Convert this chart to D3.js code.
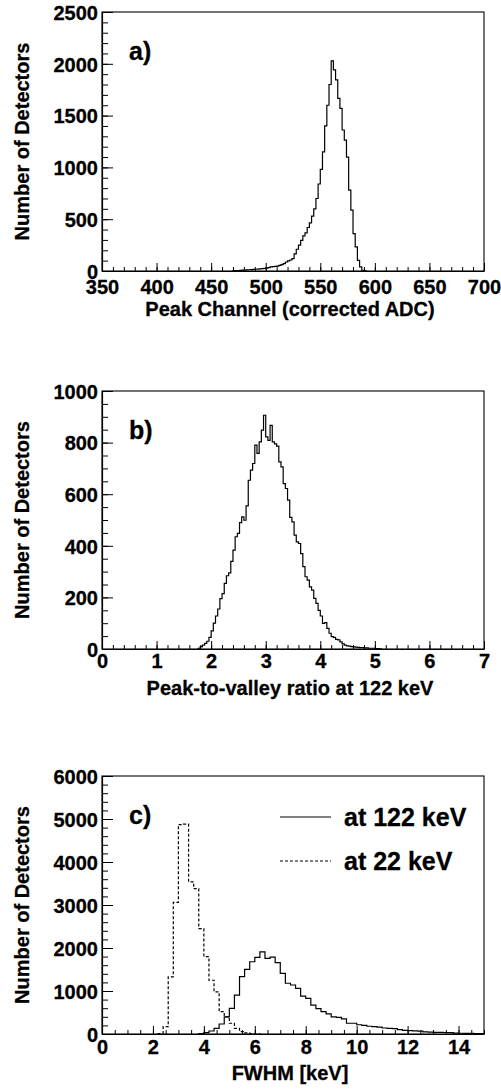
<!DOCTYPE html>
<html>
<head>
<meta charset="utf-8">
<script src="https://cdn.jsdelivr.net/npm/d3@7"></script>
<style>
  html, body { margin: 0; padding: 0; background: #fff; }
  svg text { font-family: "Liberation Sans", Arial, Helvetica, sans-serif; font-weight: bold; fill: #000; stroke: #000; stroke-width: 0.3px; }
</style>
</head>
<body>
<svg id="chart" width="501" height="1091"></svg>
<script>
// ---------- DATA ----------
// Panel a: peak channel histogram (bin width 2, starting at 470)
const aStart = 470, aWidth = 2;
const aCounts = [3,4,5,6,8,9,10,12,14,15,17,18,20,22,25,28,33,39,42,45,48,55,61,72,87,98,106,119,165,210,250,295,340,368,420,465,530,600,700,840,980,1150,1400,1600,1800,2028,1941,1844,1667,1570,1361,1264,1100,780,587,361,232,103,39,7,2];
const aXTicks = [350,400,450,500,550,600,650,700];
const aYTicks = [0,500,1000,1500,2000,2500];

// Panel b: peak-to-valley ratio (bin width 0.04, starting at 1.76)
const bStart = 1.76, bWidth = 0.04;
const bCounts = [3,9,15,22,30,45,70,100,128,155,195,215,254,284,295,340,383,435,448,490,512,499,555,654,693,719,790,758,803,848,906,822,809,867,803,795,786,725,706,641,622,577,510,493,441,415,409,370,319,280,267,241,228,196,177,150,128,99,102,80,61,48,45,37,35,28,20,15,12,11,9,8,7,6,5,5,4,4,3,3,3,2,2,1];
const bXTicks = [0,1,2,3,4,5,6,7];
const bYTicks = [0,200,400,600,800,1000];

// Panel c: FWHM (bin width 0.2)
const cWidth = 0.2;
const c122Start = 3.8;
const c122Counts = [10,31,70,132,232,400,596,906,1332,1502,1680,1780,1910,1760,1790,1660,1410,1180,1140,1060,880,830,670,590,520,470,400,385,350,250,250,215,200,180,170,160,140,132,125,100,85,80,75,65,50,45,40,38,35,30,22,18,15,14,12,10];
const c22Start = 2.2;
const c22Counts = [10,170,1330,3060,4870,4880,3540,3380,2450,1800,1250,980,520,400,250,130,55,25,10,5];
const cXTicks = [0,2,4,6,8,10,12,14];
const cYTicks = [0,1000,2000,3000,4000,5000,6000];
const cLegend = ["at 122 keV", "at 22 keV"];

// ---------- LAYOUT ----------
const svg = d3.select("#chart");
const L = 102, R = 484;

function histPath(x, y, start, width, counts) {
  const p = d3.path();
  p.moveTo(x(start), y(0));
  counts.forEach((c, i) => {
    p.lineTo(x(start + i * width), y(c));
    p.lineTo(x(start + (i + 1) * width), y(c));
  });
  p.lineTo(x(start + counts.length * width), y(0));
  return p.toString();
}

function panel(cfg) {
  const g = svg.append("g");
  const x = d3.scaleLinear().domain(cfg.xDomain).range([L, R]);
  const y = d3.scaleLinear().domain(cfg.yDomain).range([cfg.bottom, cfg.top]);

  const clipId = "clip" + cfg.id;
  svg.append("clipPath").attr("id", clipId).append("rect")
    .attr("x", L).attr("y", cfg.top - 1).attr("width", R - L).attr("height", cfg.bottom - cfg.top + 2);

  // minor ticks
  const yMinor = d3.range(cfg.yDomain[0], cfg.yDomain[1] + 1e-9, cfg.yMinor);
  const xMinor = d3.range(cfg.xDomain[0], cfg.xDomain[1] + 1e-9, cfg.xMinor);
  g.append("g").attr("transform", `translate(${L},0)`)
    .call(d3.axisLeft(y).tickValues(yMinor).tickSize(-6).tickSizeOuter(0).tickFormat(""))
    .call(s => s.select(".domain").remove());
  g.append("g").attr("transform", `translate(0,${cfg.bottom})`)
    .call(d3.axisBottom(x).tickValues(xMinor).tickSize(-4).tickSizeOuter(0).tickFormat(""))
    .call(s => s.select(".domain").remove());

  // major ticks
  const ya = g.append("g").attr("transform", `translate(${L},0)`)
    .call(d3.axisLeft(y).tickValues(cfg.yTicks).tickSize(-11).tickSizeOuter(0).tickPadding(4).tickFormat(d3.format("d")));
  ya.selectAll("text").attr("dy", "0.36em").style("font-size", "20px");
  const xa = g.append("g").attr("transform", `translate(0,${cfg.bottom})`)
    .call(d3.axisBottom(x).tickValues(cfg.xTicks).tickSize(-8).tickSizeOuter(0).tickFormat(d3.format("d")));
  xa.selectAll("text").attr("y", cfg.xLabelOff).attr("dy", 0).style("font-size", "20px");
  g.selectAll(".tick line").attr("stroke", "#000").attr("stroke-width", 1);
  g.selectAll(".domain").attr("stroke", "#000").attr("stroke-width", 1.2);

  // frame
  g.append("rect").attr("x", L).attr("y", cfg.top).attr("width", R - L).attr("height", cfg.bottom - cfg.top)
    .attr("fill", "none").attr("stroke", "#000").attr("stroke-width", 1.1);

  // histograms
  cfg.series.forEach(s => {
    g.append("path")
      .attr("d", histPath(x, y, s.start, s.width, s.counts))
      .attr("fill", "none").attr("stroke", "#000").attr("stroke-width", 1.2)
      .attr("stroke-dasharray", s.dash || null)
      .attr("clip-path", `url(#${clipId})`);
  });

  // axis titles
  g.append("text").attr("x", (L + R) / 2 - 3).attr("y", cfg.bottom + cfg.xTitleOff)
    .attr("text-anchor", "middle").style("font-size", "20px").text(cfg.xTitle);
  g.append("text").attr("transform", `translate(29,${(cfg.top + cfg.bottom) / 2}) rotate(-90)`)
    .attr("text-anchor", "middle").style("font-size", "20px").text("Number of Detectors");

  // panel label
  g.append("text").attr("x", 129).attr("y", cfg.top + 48).style("font-size", "25px").text(cfg.label);
  return {g, x, y};
}

panel({
  id: "a", top: 12, bottom: 271, xDomain: [350, 700], yDomain: [0, 2500],
  xTicks: aXTicks, yTicks: aYTicks, xMinor: 10, yMinor: 100,
  xLabelOff: 23, xTitleOff: 45, xTitle: "Peak Channel (corrected ADC)", label: "a)",
  series: [{start: aStart, width: aWidth, counts: aCounts}]
});

panel({
  id: "b", top: 391, bottom: 649, xDomain: [0, 7], yDomain: [0, 1000],
  xTicks: bXTicks, yTicks: bYTicks, xMinor: 0.2, yMinor: 50,
  xLabelOff: 19, xTitleOff: 46, xTitle: "Peak-to-valley ratio at 122 keV", label: "b)",
  series: [{start: bStart, width: bWidth, counts: bCounts}]
});

const pc = panel({
  id: "c", top: 776, bottom: 1034, xDomain: [0, 15], yDomain: [0, 6000],
  xTicks: cXTicks, yTicks: cYTicks, xMinor: 0.5, yMinor: 200,
  xLabelOff: 20, xTitleOff: 46, xTitle: "FWHM [keV]", label: "c)",
  series: [
    {start: c122Start, width: cWidth, counts: c122Counts},
    {start: c22Start, width: cWidth, counts: c22Counts, dash: "3,2"}
  ]
});

// legend
const leg = pc.g.append("g");
const legY = [817, 861];
cLegend.forEach((t, i) => {
  leg.append("line").attr("x1", 280).attr("x2", 331).attr("y1", legY[i]).attr("y2", legY[i])
    .attr("stroke", "#000").attr("stroke-width", 1.1).attr("stroke-dasharray", i === 1 ? "3,2" : null);
  leg.append("text").attr("x", 344).attr("y", legY[i] + 9).style("font-size", "25px").text(t);
});
</script>
</body>
</html>
